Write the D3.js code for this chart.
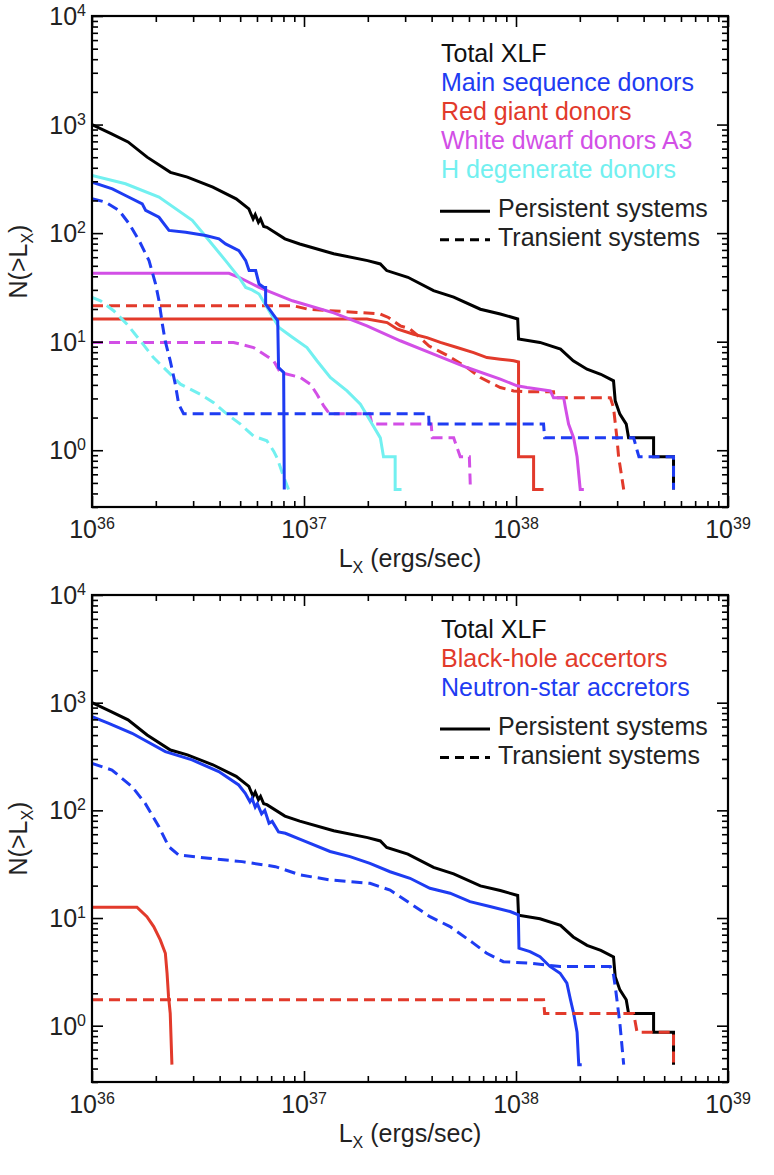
<!DOCTYPE html>
<html>
<head>
<meta charset="utf-8">
<script src="https://cdn.jsdelivr.net/npm/d3@7"></script>
<style>
  body { margin: 0; background: #fff; }
  svg { display: block; }
</style>
</head>
<body>
<svg id="chart" width="774" height="1175"></svg>
<script>
// ---------- data: cumulative XLFs, log10(Lx) and N(>Lx) ----------
// Total XLF (same curve in both panels)
const totalLogL = [36.00,36.09,36.17,36.26,36.37,36.45,36.57,36.68,36.74,36.745,36.76,36.77,36.785,36.795,36.81,36.825,36.91,36.98,37.14,37.30,37.36,37.39,37.49,37.611,37.706,37.832,37.926,38.008,38.012,38.113,38.21,38.27,38.335,38.40,38.46,38.468,38.49,38.52,38.531,38.649,38.649,38.743,38.743];
const totalN    = [1000,826,692,501,363,328,265,207,167,158,135,148,126,135,115,113,88.5,79.4,64.6,55.8,52,45.2,39.2,29.5,25.7,19.9,18.0,16.2,10.6,9.84,8.55,6.67,5.58,5.01,4.36,2.85,2.15,1.74,1.30,1.30,0.87,0.87,0.435];

// Main sequence donors
const msPersLogL = [36.00,36.096,36.158,36.237,36.253,36.316,36.363,36.442,36.536,36.599,36.63,36.693,36.725,36.741,36.772,36.788,36.811,36.819,36.819,36.876,36.88,36.904,36.907];
const msPersN    = [295,256,222,186,162,140,106,102,95,88.5,79.5,69,55.8,45.2,45.2,34,31.6,31.6,22.2,15.6,5.78,5.2,0.435];
const msTranLogL = [36.00,36.064,36.127,36.175,36.222,36.269,36.30,36.316,36.332,36.345,36.369,36.393,36.409,36.432,37.588,37.59,38.13,38.135,38.555,38.571,38.58,38.743,38.743];
const msTranN    = [208,193,162,122,85.5,55.8,34,23.8,14.5,10.2,6.67,4.06,2.65,2.17,2.17,1.74,1.74,1.30,1.30,1.0,0.87,0.87,0.435];

// Red giant donors
const rgPersLogL = [36.00,37.297,37.392,37.439,37.517,37.58,37.643,37.722,37.80,37.863,37.926,37.989,38.012,38.012,38.083,38.083,38.13];
const rgPersN    = [16.2,16.2,15.0,13.1,11.7,10.9,9.84,8.84,7.94,7.14,6.9,6.67,6.5,0.87,0.87,0.435,0.435];
const rgTranLogL = [36.00,36.95,37.02,37.36,37.398,37.454,37.50,37.53,37.59,37.68,37.769,37.832,37.879,37.926,37.989,38.052,38.177,38.18,38.445,38.46,38.476,38.484,38.508];
const rgTranN    = [21.4,21.4,19.9,18.0,16.7,14.0,13.1,11.7,9.1,7.4,5.78,4.68,4.2,3.78,3.52,3.45,3.45,3.04,3.04,2.47,1.30,0.87,0.435];

// White dwarf donors A3
const wdPersLogL = [36.00,36.646,36.693,36.788,36.945,37.14,37.297,37.454,37.611,37.769,37.926,38.005,38.052,38.162,38.177,38.225,38.233,38.248,38.272,38.288,38.303,38.32];
const wdPersN    = [42.7,42.7,39.2,31.6,23.8,18.4,14.0,10.2,7.69,5.78,4.52,3.92,3.78,3.52,3.04,3.04,2.47,1.74,1.30,0.87,0.435,0.435];
const wdTranLogL = [36.00,36.668,36.762,36.857,36.888,36.983,37.03,37.061,37.093,37.12,37.31,37.32,37.60,37.605,37.706,37.737,37.78,37.785];
const wdTranN    = [9.84,9.84,8.83,6.67,5.2,4.68,4.06,3.28,2.56,2.17,2.17,1.74,1.74,1.30,1.30,0.87,0.87,0.435];

// H degenerate donors
const hdPersLogL = [36.00,36.158,36.316,36.473,36.552,36.63,36.693,36.725,36.755,36.788,36.835,36.882,36.945,37.014,37.061,37.124,37.203,37.266,37.313,37.36,37.375,37.43,37.43,37.46];
const hdPersN    = [340,285,215,131,85.5,55.8,39.2,31.6,30,27.5,19.3,13.5,11,8.83,6.67,4.68,3.52,2.65,1.86,1.30,0.87,0.87,0.435,0.435];
const hdTranLogL = [36.00,36.04,36.102,36.165,36.228,36.29,36.354,36.417,36.511,36.574,36.637,36.70,36.762,36.825,36.857,36.873,36.90,36.927];
const hdTranN    = [25.6,23.8,19.3,14.5,10.2,7.14,5.38,4.06,3.28,2.74,2.15,1.74,1.35,1.22,0.98,0.85,0.60,0.435];

// Neutron-star accretors
const nsPersLogL = [36.00,36.079,36.189,36.346,36.472,36.598,36.692,36.723,36.745,36.755,36.77,36.78,36.80,36.815,36.835,36.85,36.88,36.912,37.00,37.123,37.217,37.311,37.406,37.50,37.594,37.689,37.783,37.877,37.972,38.011,38.014,38.066,38.113,38.16,38.208,38.24,38.257,38.272,38.288,38.296,38.31];
const nsPersN    = [741,643,520,351,294,229,172,144,120,129,107,115,93,100,76,79,63,61.2,52,41.5,37.2,32.2,26.9,23.4,18.9,17.0,14.2,12.8,11.5,10.7,5.25,4.88,4.38,3.55,3.07,2.48,1.74,1.30,0.87,0.435,0.435];
const nsTranLogL = [36.00,36.094,36.189,36.251,36.315,36.362,36.409,36.55,36.708,36.865,36.983,37.123,37.217,37.311,37.406,37.50,37.594,37.689,37.80,37.862,37.94,38.066,38.209,38.445,38.46,38.47,38.49,38.508];
const nsTranN    = [273,237,166,116,70.8,46,38.5,35.9,33.4,30,25.1,22.6,21.8,21.0,18.2,13.7,10.3,8.32,5.82,4.7,3.93,3.8,3.54,3.54,2.97,2.17,1.05,0.435];

// Black-hole accretors
const bhPersLogL = [36.00,36.212,36.259,36.291,36.322,36.346,36.354,36.361,36.369,36.377];
const bhPersN    = [12.6,12.6,10.3,8.32,6.27,4.71,3.08,1.86,1.30,0.435];
const bhTranLogL = [36.00,38.13,38.135,38.555,38.571,38.743,38.743];
const bhTranN    = [1.74,1.74,1.30,1.30,0.87,0.87,0.435];

// axis decades
const xDecades = [36, 37, 38, 39];
const yDecades = [0, 1, 2, 3, 4];

// ---------- styling ----------
const FONT = "'Liberation Sans', Arial, Helvetica, sans-serif";
const BLACK = "#000000", BLUE = "#1e3cf2", RED = "#e23a2b", MAGENTA = "#d24fe6", CYAN = "#72f0f0";
const DASH = "11,6";

const plotLeft = 92, plotRight = 728;
const svg = d3.select("#chart");

function zip(lx, n) { return lx.map((v, i) => [v, n[i]]); }

function drawPanel(cfg) {
  const g = svg.append("g");
  const x = d3.scaleLog().domain([1e36, 1e39]).range([plotLeft, plotRight]);
  const y = d3.scaleLog().domain([0.3, 1e4]).range([cfg.bottom, cfg.top]);

  const clipId = "clip" + cfg.id;
  g.append("clipPath").attr("id", clipId)
    .append("rect").attr("x", plotLeft).attr("y", cfg.top)
    .attr("width", plotRight - plotLeft).attr("height", cfg.bottom - cfg.top);

  const line = d3.line()
    .x(d => x(Math.pow(10, d[0])))
    .y(d => y(d[1]));

  const curves = g.append("g").attr("clip-path", `url(#${clipId})`);
  cfg.series.forEach(s => {
    curves.append("path")
      .datum(zip(s.lx, s.n))
      .attr("d", line)
      .attr("fill", "none")
      .attr("stroke", s.color)
      .attr("stroke-width", 3)
      .attr("stroke-linejoin", "miter")
      .attr("stroke-dasharray", s.dashed ? DASH : null);
  });

  // ticks on all four sides, pointing inward
  const xMinor = [], yMinor = [];
  [36, 37, 38].forEach(e => { for (let m = 2; m <= 9; m++) xMinor.push(m * Math.pow(10, e)); });
  [-1, 0, 1, 2, 3].forEach(e => { for (let m = 2; m <= 9; m++) { const v = m * Math.pow(10, e); if (v >= 0.3 && v <= 1e4) yMinor.push(v); } });
  const xMajor = xDecades.map(e => Math.pow(10, e));
  const yMajor = yDecades.map(e => Math.pow(10, e));

  function addAxis(axisFn, scale, values, size, transform) {
    const a = g.append("g").attr("transform", transform)
      .call(axisFn(scale).tickValues(values).tickSize(-size).tickFormat(""));
    a.select(".domain").remove();
    a.selectAll(".tick line").attr("stroke", "#000").attr("stroke-width", 1.6);
  }
  addAxis(d3.axisBottom, x, xMajor, 11, `translate(0,${cfg.bottom})`);
  addAxis(d3.axisBottom, x, xMinor, 6, `translate(0,${cfg.bottom})`);
  addAxis(d3.axisTop, x, xMajor, 11, `translate(0,${cfg.top})`);
  addAxis(d3.axisTop, x, xMinor, 6, `translate(0,${cfg.top})`);
  addAxis(d3.axisLeft, y, yMajor, 11, `translate(${plotLeft},0)`);
  addAxis(d3.axisLeft, y, yMinor, 6, `translate(${plotLeft},0)`);
  addAxis(d3.axisRight, y, yMajor, 11, `translate(${plotRight},0)`);
  addAxis(d3.axisRight, y, yMinor, 6, `translate(${plotRight},0)`);

  // frame
  g.append("rect")
    .attr("x", plotLeft).attr("y", cfg.top)
    .attr("width", plotRight - plotLeft).attr("height", cfg.bottom - cfg.top)
    .attr("fill", "none").attr("stroke", "#000").attr("stroke-width", 2.2);

  // x tick labels
  xDecades.forEach(e => {
    const t = g.append("text")
      .attr("x", x(Math.pow(10, e))).attr("y", cfg.bottom + 31)
      .attr("text-anchor", "middle")
      .attr("font-family", FONT).attr("font-size", 25).attr("fill", "#222");
    t.append("tspan").text("10");
    t.append("tspan").attr("font-size", 16).attr("dy", -9).text(e);
  });

  // y tick labels
  yDecades.forEach(e => {
    const t = g.append("text")
      .attr("x", 86).attr("y", y(Math.pow(10, e)) + 9)
      .attr("text-anchor", "end")
      .attr("font-family", FONT).attr("font-size", 25).attr("fill", "#222");
    t.append("tspan").text("10");
    t.append("tspan").attr("font-size", 16).attr("dy", -9).text(e);
  });

  // axis titles
  const xt = g.append("text")
    .attr("x", (plotLeft + plotRight) / 2).attr("y", cfg.bottom + 60)
    .attr("text-anchor", "middle")
    .attr("font-family", FONT).attr("font-size", 25).attr("fill", "#222");
  xt.append("tspan").text("L");
  xt.append("tspan").attr("font-size", 16).attr("dy", 6).text("X");
  xt.append("tspan").attr("dy", -6).text(" (ergs/sec)");

  const yt = g.append("text")
    .attr("transform", `translate(27,${(cfg.top + cfg.bottom) / 2}) rotate(-90)`)
    .attr("text-anchor", "middle")
    .attr("font-family", FONT).attr("font-size", 25).attr("fill", "#222");
  yt.append("tspan").text("N(>L");
  yt.append("tspan").attr("font-size", 16).attr("dy", 6).text("X");
  yt.append("tspan").attr("dy", -6).text(")");

  // legend
  const lx0 = 441;
  let ly = cfg.legendY;
  cfg.legend.forEach(item => {
    g.append("text").attr("x", lx0).attr("y", ly)
      .attr("font-family", FONT).attr("font-size", 25).attr("fill", item.color)
      .text(item.label);
    ly += 29;
  });
  ly += 10.5;
  const styles = [{ label: "Persistent systems", dash: null }, { label: "Transient systems", dash: "9,6" }];
  styles.forEach(st => {
    g.append("line")
      .attr("x1", 440).attr("x2", 490).attr("y1", ly - 6).attr("y2", ly - 6)
      .attr("stroke", "#000").attr("stroke-width", 3)
      .attr("stroke-dasharray", st.dash);
    g.append("text").attr("x", 498).attr("y", ly)
      .attr("font-family", FONT).attr("font-size", 25).attr("fill", "#222")
      .text(st.label);
    ly += 28.5;
  });
}

drawPanel({
  id: "donors", top: 16, bottom: 507, legendY: 61.7,
  series: [
    { lx: totalLogL, n: totalN, color: BLACK },
    { lx: rgPersLogL, n: rgPersN, color: RED },
    { lx: rgTranLogL, n: rgTranN, color: RED, dashed: true },
    { lx: wdPersLogL, n: wdPersN, color: MAGENTA },
    { lx: wdTranLogL, n: wdTranN, color: MAGENTA, dashed: true },
    { lx: hdPersLogL, n: hdPersN, color: CYAN },
    { lx: hdTranLogL, n: hdTranN, color: CYAN, dashed: true },
    { lx: msPersLogL, n: msPersN, color: BLUE },
    { lx: msTranLogL, n: msTranN, color: BLUE, dashed: true }
  ],
  legend: [
    { label: "Total XLF", color: "#111" },
    { label: "Main sequence donors", color: BLUE },
    { label: "Red giant donors", color: RED },
    { label: "White dwarf donors A3", color: MAGENTA },
    { label: "H degenerate donors", color: CYAN }
  ]
});

drawPanel({
  id: "accretors", top: 595, bottom: 1082, legendY: 637.5,
  series: [
    { lx: totalLogL, n: totalN, color: BLACK },
    { lx: nsPersLogL, n: nsPersN, color: BLUE },
    { lx: nsTranLogL, n: nsTranN, color: BLUE, dashed: true },
    { lx: bhPersLogL, n: bhPersN, color: RED },
    { lx: bhTranLogL, n: bhTranN, color: RED, dashed: true }
  ],
  legend: [
    { label: "Total XLF", color: "#111" },
    { label: "Black-hole accertors", color: RED },
    { label: "Neutron-star accretors", color: BLUE }
  ]
});
</script>
</body>
</html>
